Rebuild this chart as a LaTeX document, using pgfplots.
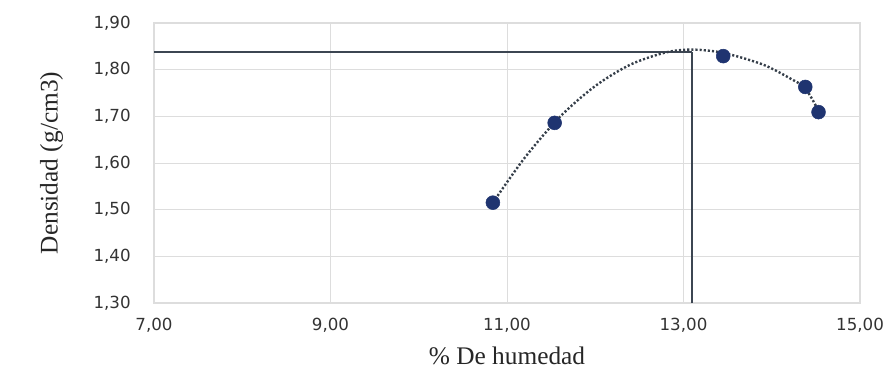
\documentclass[border=0pt]{standalone}
\usepackage{fontspec}
\setmainfont{Liberation Serif}
\newfontfamily\tickfont{DejaVu Sans}
\usepackage{pgfplots}
\pgfplotsset{compat=1.18}
\definecolor{ptblue}{HTML}{1F3470}
\definecolor{refline}{HTML}{3C4652}
\definecolor{gridc}{HTML}{DDDDDD}
\begin{document}
\begin{tikzpicture}
\begin{axis}[
  scale only axis,
  width=529.5pt, height=210pt,
  xmin=7, xmax=15, ymin=1.3, ymax=1.9,
  xtick={7,9,11,13,15},
  ytick={1.3,1.4,1.5,1.6,1.7,1.8,1.9},
  xmajorgrids, ymajorgrids,
  grid style={gridc, line width=0.6pt},
  axis line style={gridc, line width=0.8pt},
  major tick length=0pt,
  tick label style={font=\tickfont\fontsize{12.5}{14}\selectfont, text=black!80},
  /pgf/number format/assume math mode=true,
  /pgf/number format/.cd, fixed, fixed zerofill, precision=2, use comma,
  /pgfplots/.cd,
  yticklabel style={xshift=-14pt},
  xticklabel style={yshift=-8pt},
  xlabel={\% De humedad},
  ylabel={Densidad (g/cm3)},
  label style={font=\fontsize{19}{22}\selectfont, text=black!85},
  xlabel style={yshift=-4pt},
  ylabel style={yshift=16pt},
  clip=false,
]
\addplot[refline, line width=1.5pt] coordinates {(7,1.838) (13.1,1.838)};
\addplot[refline, line width=1.5pt] coordinates {(13.1,1.3) (13.1,1.838)};
\addplot[refline!90!black, line width=1.8pt, dash pattern=on 1.6pt off 1.5pt, smooth, tension=0.5] coordinates {
(10.84,1.515) (11.2,1.611) (11.6,1.699) (12.0,1.765) (12.4,1.811)
(12.8,1.837) (13.1,1.843) (13.45,1.836) (13.9,1.811) (14.22,1.780)
(14.38,1.760) (14.53,1.712)};
\addplot[only marks, mark=*, mark size=5.2pt, mark options={fill=ptblue, draw=ptblue}] coordinates {
(10.84,1.515) (11.54,1.686) (13.45,1.829) (14.38,1.763) (14.53,1.709)};
\end{axis}
\pgfresetboundingbox
\path (current axis.south west) ++(-115.5pt,-58.5pt) coordinate (bl);
\path (current axis.north east) ++(27pt,17.25pt) coordinate (tr);
\path[use as bounding box] (bl) rectangle (tr);
\end{tikzpicture}
\end{document}
